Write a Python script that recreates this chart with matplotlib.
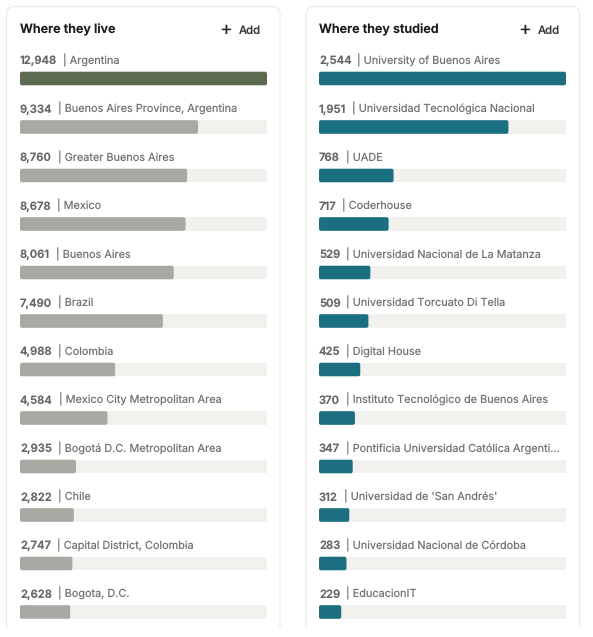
#!/usr/bin/python3
"""
	Audience breakdown cards: where they live / where they studied.
"""
import matplotlib
matplotlib.use("Agg")
import matplotlib.pyplot as plt
from matplotlib.patches import FancyBboxPatch, Rectangle

live_names = ["Argentina", "Buenos Aires Province, Argentina", "Greater Buenos Aires", "Mexico",
	"Buenos Aires", "Brazil", "Colombia", "Mexico City Metropolitan Area",
	"Bogotá D.C. Metropolitan Area", "Chile", "Capital District, Colombia", "Bogota, D.C."]
live_values = [12948, 9334, 8760, 8678, 8061, 7490, 4988, 4584, 2935, 2822, 2747, 2628]

study_names = ["University of Buenos Aires", "Universidad Tecnológica Nacional", "UADE", "Coderhouse",
	"Universidad Nacional de La Matanza", "Universidad Torcuato Di Tella", "Digital House",
	"Instituto Tecnológico de Buenos Aires", "Pontificia Universidad Católica Argenti...",
	"Universidad de 'San Andrés'", "Universidad Nacional de Córdoba", "EducacionIT"]
study_values = [2544, 1951, 768, 717, 529, 509, 425, 370, 347, 312, 283, 229]

W, H = 593, 637
ROW = 48.5
TOP = 78.5

plt.rcParams['font.family'] = ['Inter', 'DejaVu Sans']
plt.rcParams['text.hinting'] = 'no_hinting'
plt.rcParams['text.hinting_factor'] = 1

fig = plt.figure(figsize=(W / 100, H / 100), dpi=100)
fig.patch.set_facecolor('white')

# background layer in pixels, for the cards
bg = fig.add_axes([0, 0, 1, 1])
bg.set_xlim(0, W)
bg.set_ylim(H, 0)
bg.axis('off')

def card(x0, x1):
	bg.add_patch(FancyBboxPatch((x0, 6.5), x1 - x0, 660, boxstyle="round,pad=0,rounding_size=8",
		facecolor='white', edgecolor='#ebebe9', linewidth=0.9))

card(6.5, 280)
card(306, 579.5)
bg.add_patch(Rectangle((0, 628), W, 12, facecolor='white', edgecolor='none', zorder=5))

def panel(left, title, names, values, first_color, rest_color):
	top_px = TOP - ROW
	ax = fig.add_axes([left / W, 0, 247 / W, (H - top_px) / H])
	ax.patch.set_alpha(0)
	ax.axis('off')
	xmax = max(values)
	ax.set_xlim(0, xmax)
	ax.set_ylim(-1 + (H - top_px) / ROW, -1)
	height = 13.6 / ROW
	ax.barh(range(len(values)), [xmax] * len(values), height=height, color='#f2f1ed', linewidth=0)
	xpx = xmax / 247
	ypx = 1 / ROW
	renderer = fig.canvas.get_renderer()
	for i, (name, value) in enumerate(zip(names, values)):
		color = first_color if i == 0 else rest_color
		ax.add_patch(FancyBboxPatch((0, i - height / 2), value, height,
			boxstyle="round,pad=0,rounding_size=%f" % (2 * xpx), mutation_aspect=ypx / xpx,
			facecolor=color, edgecolor='none', zorder=3))
		t = ax.text(0, i - 0.295, format(value, ','), fontsize=8.1, color='#666664', weight='semibold', va='baseline')
		w = t.get_window_extent(renderer).width
		ax.text((w + 5.8) * xpx, i - 0.295, "| " + name, fontsize=7.85, color='#737371', va='baseline')
	ax.text(0, -1, title, fontsize=9.1, color='#1b1b1b', weight='semibold', va='center')
	ax.text(241 * xpx, -0.99, "Add", fontsize=8.2, color='#3a3a38', weight='medium', ha='right', va='center')
	ax.text(206 * xpx, -1.01, "+", fontsize=14, color='#2a2a28', ha='center', va='center')

panel(20, "Where they live", live_names, live_values, '#5c6b4f', '#a9a8a2')
panel(319, "Where they studied", study_names, study_values, '#1b6f80', '#1b6f80')

fig.savefig("out.png", dpi=100)
